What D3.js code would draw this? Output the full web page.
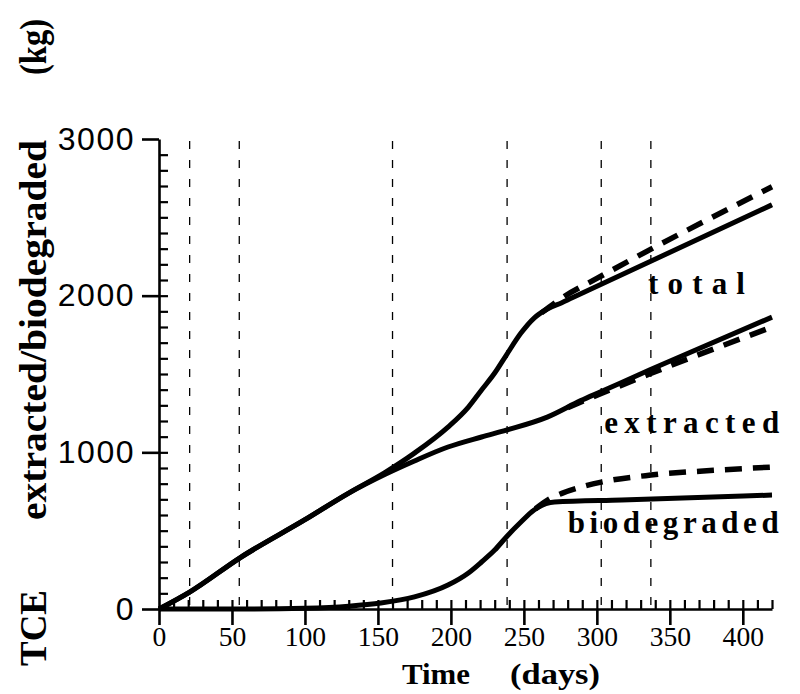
<!DOCTYPE html>
<html>
<head>
<meta charset="utf-8">
<script src="https://cdn.jsdelivr.net/npm/d3@7"></script>
<style>
  body { margin: 0; background: #fff; }
  svg { display: block; }
</style>
</head>
<body>
<div id="chart"></div>
<script>
// Tick values
const xTickValues = [0, 50, 100, 150, 200, 250, 300, 350, 400];
const yTickValues = [0, 1000, 2000, 3000];

// Days marked by the thin vertical dashed lines
const eventDays = [21, 55, 160, 238.5, 303, 337];

// Curves as [day, kg]
const totalSolid = [[0, 0], [21, 108], [56, 330], [100, 570], [130, 740], [155, 872], [175, 995],
  [198, 1161], [212, 1289], [221, 1398], [230, 1506], [238, 1621], [248, 1761], [257, 1857],
  [266, 1915], [276, 1955], [289, 2012], [420, 2580]];
const totalDashed = [[262, 1890], [276, 1985], [300, 2110], [420, 2695]];

const extractedSolid = [[0, 0], [21, 108], [56, 330], [100, 570], [130, 740], [155, 860], [175, 945],
  [198, 1034], [221, 1098], [238, 1142], [266, 1225], [289, 1330], [303, 1388], [336, 1525], [420, 1863]];
const extractedDashed = [[280, 1285], [303, 1375], [336, 1500], [420, 1800]];

const bioSolid = [[0, 0], [60, 0], [100, 5], [130, 18], [152, 38], [175, 77], [198, 153], [212, 230],
  [221, 300], [230, 376], [238, 460], [248, 555], [257, 632], [271, 683], [317, 696], [420, 727]];
const bioDashed = [[258, 640], [268, 705], [276, 738], [289, 778], [303, 810], [337, 855], [380, 885], [420, 906]];

const curveLabels = [
  { text: "total", day: 335, kg: 2010, len: 97 },
  { text: "extracted", day: 305, kg: 1125, len: 175 },
  { text: "biodegraded", day: 280, kg: 485, len: 211 }
];

class TceChart {
  constructor(parent) {
    this.config = {
      parentElement: parent,
      containerWidth: 800,
      containerHeight: 694,
      x0: 159, x1: 772,
      y0: 609, y1: 139
    };
    this.initVis();
  }

  initVis() {
    let vis = this;
    const c = vis.config;

    vis.svg = d3.select(c.parentElement).append("svg")
      .attr("width", c.containerWidth)
      .attr("height", c.containerHeight);

    vis.x = d3.scaleLinear().domain([0, 420]).range([c.x0, c.x1]);
    vis.y = d3.scaleLinear().domain([0, 3000]).range([c.y0, c.y1]);

    // thin dashed markers
    vis.svg.append("g").selectAll("line")
      .data(eventDays)
      .join("line")
      .attr("x1", d => vis.x(d)).attr("x2", d => vis.x(d))
      .attr("y1", vis.y(3000) + 2).attr("y2", vis.y(0))
      .attr("stroke", "#000")
      .attr("stroke-width", 1.3)
      .attr("stroke-dasharray", "8,11");

    // minor ticks pointing inwards
    vis.svg.append("g")
      .attr("transform", `translate(${c.x0},0)`)
      .call(d3.axisRight(vis.y).tickValues(d3.range(100, 3000, 100)).tickSize(9).tickFormat(""))
      .call(g => g.select(".domain").remove())
      .call(g => g.selectAll("line").attr("stroke-width", 2.2));

    vis.svg.append("g")
      .attr("transform", `translate(0,${c.y0})`)
      .call(d3.axisTop(vis.x).tickValues(d3.range(10, 421, 10)).tickSize(9).tickFormat(""))
      .call(g => g.select(".domain").remove())
      .call(g => g.selectAll("line").attr("stroke-width", 2.2));

    // y axis: major ticks outward
    vis.svg.append("g")
      .attr("transform", `translate(${c.x0},0)`)
      .call(d3.axisLeft(vis.y).tickValues(yTickValues).tickSize(17).tickSizeOuter(0)
        .tickPadding(7).tickFormat(d3.format("d")))
      .call(g => g.select(".domain").attr("stroke-width", 2.6))
      .call(g => g.selectAll("line").attr("stroke-width", 2.6))
      .call(g => g.selectAll("text")
        .attr("font-family", "'Liberation Sans', Arial, sans-serif")
        .attr("font-size", 32)
        .attr("letter-spacing", 1.5)
        .attr("fill", "#000"));

    // x axis: major ticks outward
    vis.svg.append("g")
      .attr("transform", `translate(0,${c.y0})`)
      .call(d3.axisBottom(vis.x).tickValues(xTickValues).tickSize(16).tickSizeOuter(0).tickPadding(1))
      .call(g => g.select(".domain").attr("stroke-width", 2.6))
      .call(g => g.selectAll("line").attr("stroke-width", 2.6))
      .call(g => g.selectAll("text")
        .attr("font-family", "'Liberation Serif', 'Times New Roman', serif")
        .attr("font-size", 28)
        .attr("fill", "#000")
        .attr("textLength", d => String(d).length * 13.8)
        .attr("lengthAdjust", "spacingAndGlyphs"));

    vis.renderVis();
  }

  renderVis() {
    let vis = this;
    const line = d3.line()
      .x(d => vis.x(d[0]))
      .y(d => vis.y(d[1]))
      .curve(d3.curveMonotoneX);

    const solids = [totalSolid, extractedSolid, bioSolid];
    const dashes = [totalDashed, extractedDashed, bioDashed];

    vis.svg.append("g").selectAll("path")
      .data(solids)
      .join("path")
      .attr("d", line)
      .attr("fill", "none")
      .attr("stroke", "#000")
      .attr("stroke-width", 5)
      .attr("stroke-linejoin", "round");

    vis.svg.append("g").selectAll("path")
      .data(dashes)
      .join("path")
      .attr("d", line)
      .attr("fill", "none")
      .attr("stroke", "#000")
      .attr("stroke-width", 5.5)
      .attr("stroke-dasharray", "17,11");

    const serif = "'Liberation Serif', 'Times New Roman', serif";

    // curve names
    vis.svg.append("g").selectAll("text")
      .data(curveLabels)
      .join("text")
      .attr("x", d => vis.x(d.day))
      .attr("y", d => vis.y(d.kg))
      .attr("textLength", d => d.len)
      .attr("lengthAdjust", "spacing")
      .attr("font-family", serif)
      .attr("font-weight", "bold")
      .attr("font-size", 31)
      .text(d => d.text);

    // axis titles
    const xTitle = vis.svg.append("g")
      .attr("font-family", serif).attr("font-weight", "bold").attr("font-size", 30);
    xTitle.append("text").attr("x", 402).attr("y", 684).attr("textLength", 68)
      .attr("lengthAdjust", "spacingAndGlyphs").text("Time");
    xTitle.append("text").attr("x", 510).attr("y", 684).attr("textLength", 90)
      .attr("lengthAdjust", "spacingAndGlyphs").text("(days)");

    const yTitle = vis.svg.append("g")
      .attr("transform", "translate(46,0) rotate(-90)")
      .attr("font-family", serif).attr("font-weight", "bold").attr("font-size", 37)
      .attr("text-anchor", "middle");
    yTitle.append("text").attr("x", -628).attr("textLength", 76)
      .attr("lengthAdjust", "spacingAndGlyphs").text("TCE");
    yTitle.append("text").attr("x", -330).attr("textLength", 380)
      .attr("lengthAdjust", "spacingAndGlyphs").text("extracted/biodegraded");
    yTitle.append("text").attr("x", -47).attr("textLength", 56)
      .attr("lengthAdjust", "spacingAndGlyphs").text("(kg)");
  }
}

new TceChart("#chart");
</script>
</body>
</html>
